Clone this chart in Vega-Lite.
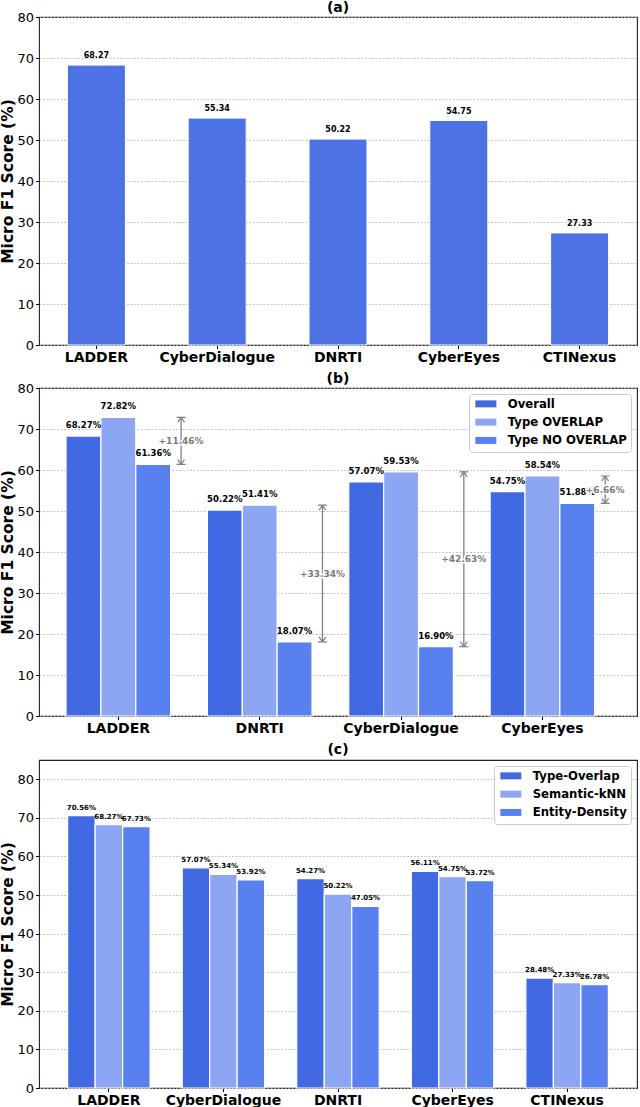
{
  "$schema": "https://vega.github.io/schema/vega-lite/v6.json",
  "padding": {"left": 0, "top": 0, "right": 0, "bottom": 0},
  "spacing": 5,
  "resolve": {"scale": {"x": "independent", "xOffset": "independent", "color": "independent", "y": "independent"}, "legend": {"color": "independent"}},
  "datasets": {
    "a": [
      {"dataset": "LADDER", "value": 68.27},
      {"dataset": "CyberDialogue", "value": 55.34},
      {"dataset": "DNRTI", "value": 50.22},
      {"dataset": "CyberEyes", "value": 54.75},
      {"dataset": "CTINexus", "value": 27.33}
    ],
    "b": [
      {"dataset": "LADDER", "series": "Overall", "value": 68.27},
      {"dataset": "LADDER", "series": "Type OVERLAP", "value": 72.82},
      {"dataset": "LADDER", "series": "Type NO OVERLAP", "value": 61.36},
      {"dataset": "DNRTI", "series": "Overall", "value": 50.22},
      {"dataset": "DNRTI", "series": "Type OVERLAP", "value": 51.41},
      {"dataset": "DNRTI", "series": "Type NO OVERLAP", "value": 18.07},
      {"dataset": "CyberDialogue", "series": "Overall", "value": 57.07},
      {"dataset": "CyberDialogue", "series": "Type OVERLAP", "value": 59.53},
      {"dataset": "CyberDialogue", "series": "Type NO OVERLAP", "value": 16.90},
      {"dataset": "CyberEyes", "series": "Overall", "value": 54.75},
      {"dataset": "CyberEyes", "series": "Type OVERLAP", "value": 58.54},
      {"dataset": "CyberEyes", "series": "Type NO OVERLAP", "value": 51.88}
    ],
    "gaps": [
      {"dataset": "LADDER", "lo": 61.36, "hi": 72.82},
      {"dataset": "DNRTI", "lo": 18.07, "hi": 51.41},
      {"dataset": "CyberDialogue", "lo": 16.90, "hi": 59.53},
      {"dataset": "CyberEyes", "lo": 51.88, "hi": 58.54}
    ],
    "c": [
      {"dataset": "LADDER", "series": "Type-Overlap", "value": 70.56},
      {"dataset": "LADDER", "series": "Semantic-kNN", "value": 68.27},
      {"dataset": "LADDER", "series": "Entity-Density", "value": 67.73},
      {"dataset": "CyberDialogue", "series": "Type-Overlap", "value": 57.07},
      {"dataset": "CyberDialogue", "series": "Semantic-kNN", "value": 55.34},
      {"dataset": "CyberDialogue", "series": "Entity-Density", "value": 53.92},
      {"dataset": "DNRTI", "series": "Type-Overlap", "value": 54.27},
      {"dataset": "DNRTI", "series": "Semantic-kNN", "value": 50.22},
      {"dataset": "DNRTI", "series": "Entity-Density", "value": 47.05},
      {"dataset": "CyberEyes", "series": "Type-Overlap", "value": 56.11},
      {"dataset": "CyberEyes", "series": "Semantic-kNN", "value": 54.75},
      {"dataset": "CyberEyes", "series": "Entity-Density", "value": 53.72},
      {"dataset": "CTINexus", "series": "Type-Overlap", "value": 28.48},
      {"dataset": "CTINexus", "series": "Semantic-kNN", "value": 27.33},
      {"dataset": "CTINexus", "series": "Entity-Density", "value": 26.78}
    ]
  },
  "config": {
    "font": "DejaVu Sans",
    "view": {"stroke": "#222", "strokeWidth": 1.1},
    "title": {"fontSize": 14, "fontWeight": "bold", "color": "#000", "offset": -4, "anchor": "middle"},
    "axis": {"labelColor": "#000", "titleColor": "#000", "tickColor": "#000", "tickSize": 3.5, "tickWidth": 1, "domain": false},
    "axisY": {"grid": true, "gridDash": [2, 1.5], "gridColor": "#b8b8b8", "gridWidth": 0.8, "labelFontSize": 13, "labelPadding": 2, "titleFontSize": 15.5, "titleFontWeight": "bold", "titlePadding": 1, "tickCount": 9},
    "axisX": {"grid": false, "labelFontSize": 14, "labelFontWeight": "bold", "labelAngle": 0, "labelPadding": 2},
    "legend": {"orient": "top-right", "offset": 6, "padding": 4, "fillColor": "white", "strokeColor": "#cccccc", "cornerRadius": 3, "labelFontSize": 11.7, "labelFontWeight": "bold", "labelColor": "#000", "labelOffset": 16, "symbolOffset": 7, "rowPadding": 5.3, "symbolStrokeWidth": 0}
  },
  "vconcat": [
    {
      "title": "(a)",
      "width": 598,
      "height": 328,
      "data": {"name": "a"},
      "encoding": {
        "x": {"field": "dataset", "type": "nominal", "sort": null, "title": null, "scale": {"paddingInner": 0.52, "paddingOuter": 0.235}},
        "y": {"field": "value", "type": "quantitative", "title": "Micro F1 Score (%)", "scale": {"domain": [0, 80], "nice": false}, "axis": {"values": [0, 10, 20, 30, 40, 50, 60, 70, 80]}}
      },
      "layer": [
        {"mark": {"type": "bar", "color": "#4c72e3", "stroke": "white", "strokeWidth": 1}},
        {"mark": {"type": "text", "fontSize": 8, "fontWeight": "bold", "baseline": "bottom", "dy": -5, "color": "#000"}, "encoding": {"text": {"field": "value", "type": "quantitative", "format": ".2f"}}}
      ]
    },
    {
      "title": "(b)",
      "width": 598,
      "height": 328,
      "layer": [
        {
          "data": {"name": "b"},
          "mark": {"type": "bar", "stroke": "white", "strokeWidth": 1.2},
          "encoding": {
            "x": {"field": "dataset", "type": "nominal", "title": null, "scale": {"domain": ["LADDER", "DNRTI", "CyberDialogue", "CyberEyes"], "paddingInner": 0.26, "paddingOuter": 0.245, "align": 0.39}},
            "xOffset": {"field": "series", "type": "nominal", "scale": {"domain": ["Overall", "Type OVERLAP", "Type NO OVERLAP"], "paddingInner": 0, "paddingOuter": 0}},
            "y": {"field": "value", "type": "quantitative", "title": "Micro F1 Score (%)", "scale": {"domain": [0, 80], "nice": false}, "axis": {"values": [0, 10, 20, 30, 40, 50, 60, 70, 80]}},
            "color": {"field": "series", "type": "nominal", "scale": {"domain": ["Overall", "Type OVERLAP", "Type NO OVERLAP"], "range": ["#4169e1", "#8ca6f4", "#5880ee"]}, "legend": {"title": null, "symbolType": "M-2.1,-0.7H2.1V0.7H-2.1Z", "symbolSize": 100}}
          }
        },
        {
          "data": {"name": "b"},
          "mark": {"type": "text", "fontSize": 8.5, "fontWeight": "bold", "baseline": "bottom", "dy": -6, "color": "#000", "text": {"expr": "format(datum.value, '.2f') + '%'"}},
          "encoding": {
            "x": {"field": "dataset", "type": "nominal"},
            "xOffset": {"field": "series", "type": "nominal"},
            "y": {"field": "value", "type": "quantitative"}
          }
        },
        {
          "data": {"name": "gaps"},
          "mark": {"type": "rule", "color": "#808080", "strokeWidth": 1.3},
          "encoding": {
            "x": {"field": "dataset", "type": "nominal", "bandPosition": 1.1},
            "y": {"field": "lo", "type": "quantitative"},
            "y2": {"field": "hi"}
          }
        },
        {
          "data": {"name": "gaps"},
          "mark": {"type": "point", "shape": "M-1,0H1M-0.75,1.1L0,0L0.75,1.1", "size": 81, "filled": false, "color": "#808080", "strokeWidth": 1.2, "opacity": 1},
          "encoding": {
            "x": {"field": "dataset", "type": "nominal", "bandPosition": 1.1},
            "y": {"field": "hi", "type": "quantitative"}
          }
        },
        {
          "data": {"name": "gaps"},
          "mark": {"type": "point", "shape": "M-1,0H1M-0.75,-1.1L0,0L0.75,-1.1", "size": 81, "filled": false, "color": "#808080", "strokeWidth": 1.2, "opacity": 1},
          "encoding": {
            "x": {"field": "dataset", "type": "nominal", "bandPosition": 1.1},
            "y": {"field": "lo", "type": "quantitative"}
          }
        },
        {
          "data": {"name": "gaps"},
          "transform": [
            {"fold": ["lo", "hi"], "as": ["end", "v"]},
            {"aggregate": [{"op": "mean", "field": "v", "as": "mid"}, {"op": "max", "field": "v", "as": "top"}, {"op": "min", "field": "v", "as": "bot"}], "groupby": ["dataset"]}
          ],
          "encoding": {
            "x": {"field": "dataset", "type": "nominal", "bandPosition": 1.1},
            "y": {"field": "mid", "type": "quantitative"}
          },
          "layer": [
            {"mark": {"type": "text", "fontSize": 9, "fontWeight": "bold", "color": "white", "stroke": "white", "strokeWidth": 3, "baseline": "middle", "text": {"expr": "'+' + format(datum.top - datum.bot, '.2f') + '%'"}}},
            {"mark": {"type": "text", "fontSize": 9, "fontWeight": "bold", "color": "#7a7a7a", "baseline": "middle", "text": {"expr": "'+' + format(datum.top - datum.bot, '.2f') + '%'"}}}
          ]
        }
      ]
    },
    {
      "title": {"text": "(c)", "offset": 3},
      "width": 598,
      "height": 328,
      "data": {"name": "c"},
      "encoding": {
        "x": {"field": "dataset", "type": "nominal", "sort": null, "title": null, "scale": {"paddingInner": 0.28, "paddingOuter": 0.25}},
        "xOffset": {"field": "series", "type": "nominal", "sort": null, "scale": {"domain": ["Type-Overlap", "Semantic-kNN", "Entity-Density"], "paddingInner": 0, "paddingOuter": 0}},
        "y": {"field": "value", "type": "quantitative", "title": "Micro F1 Score (%)", "scale": {"domain": [0, 85], "nice": false}, "axis": {"values": [0, 10, 20, 30, 40, 50, 60, 70, 80]}}
      },
      "layer": [
        {
          "mark": {"type": "bar", "stroke": "white", "strokeWidth": 1.2},
          "encoding": {
            "color": {"field": "series", "type": "nominal", "scale": {"domain": ["Type-Overlap", "Semantic-kNN", "Entity-Density"], "range": ["#4169e1", "#8ca6f4", "#5880ee"]}, "legend": {"title": null, "symbolType": "M-2.1,-0.7H2.1V0.7H-2.1Z", "symbolSize": 100}}
          }
        },
        {
          "mark": {"type": "text", "fontSize": 7, "fontWeight": "bold", "baseline": "bottom", "dy": -5, "color": "#000", "text": {"expr": "format(datum.value, '.2f') + '%'"}}
        }
      ]
    }
  ]
}
